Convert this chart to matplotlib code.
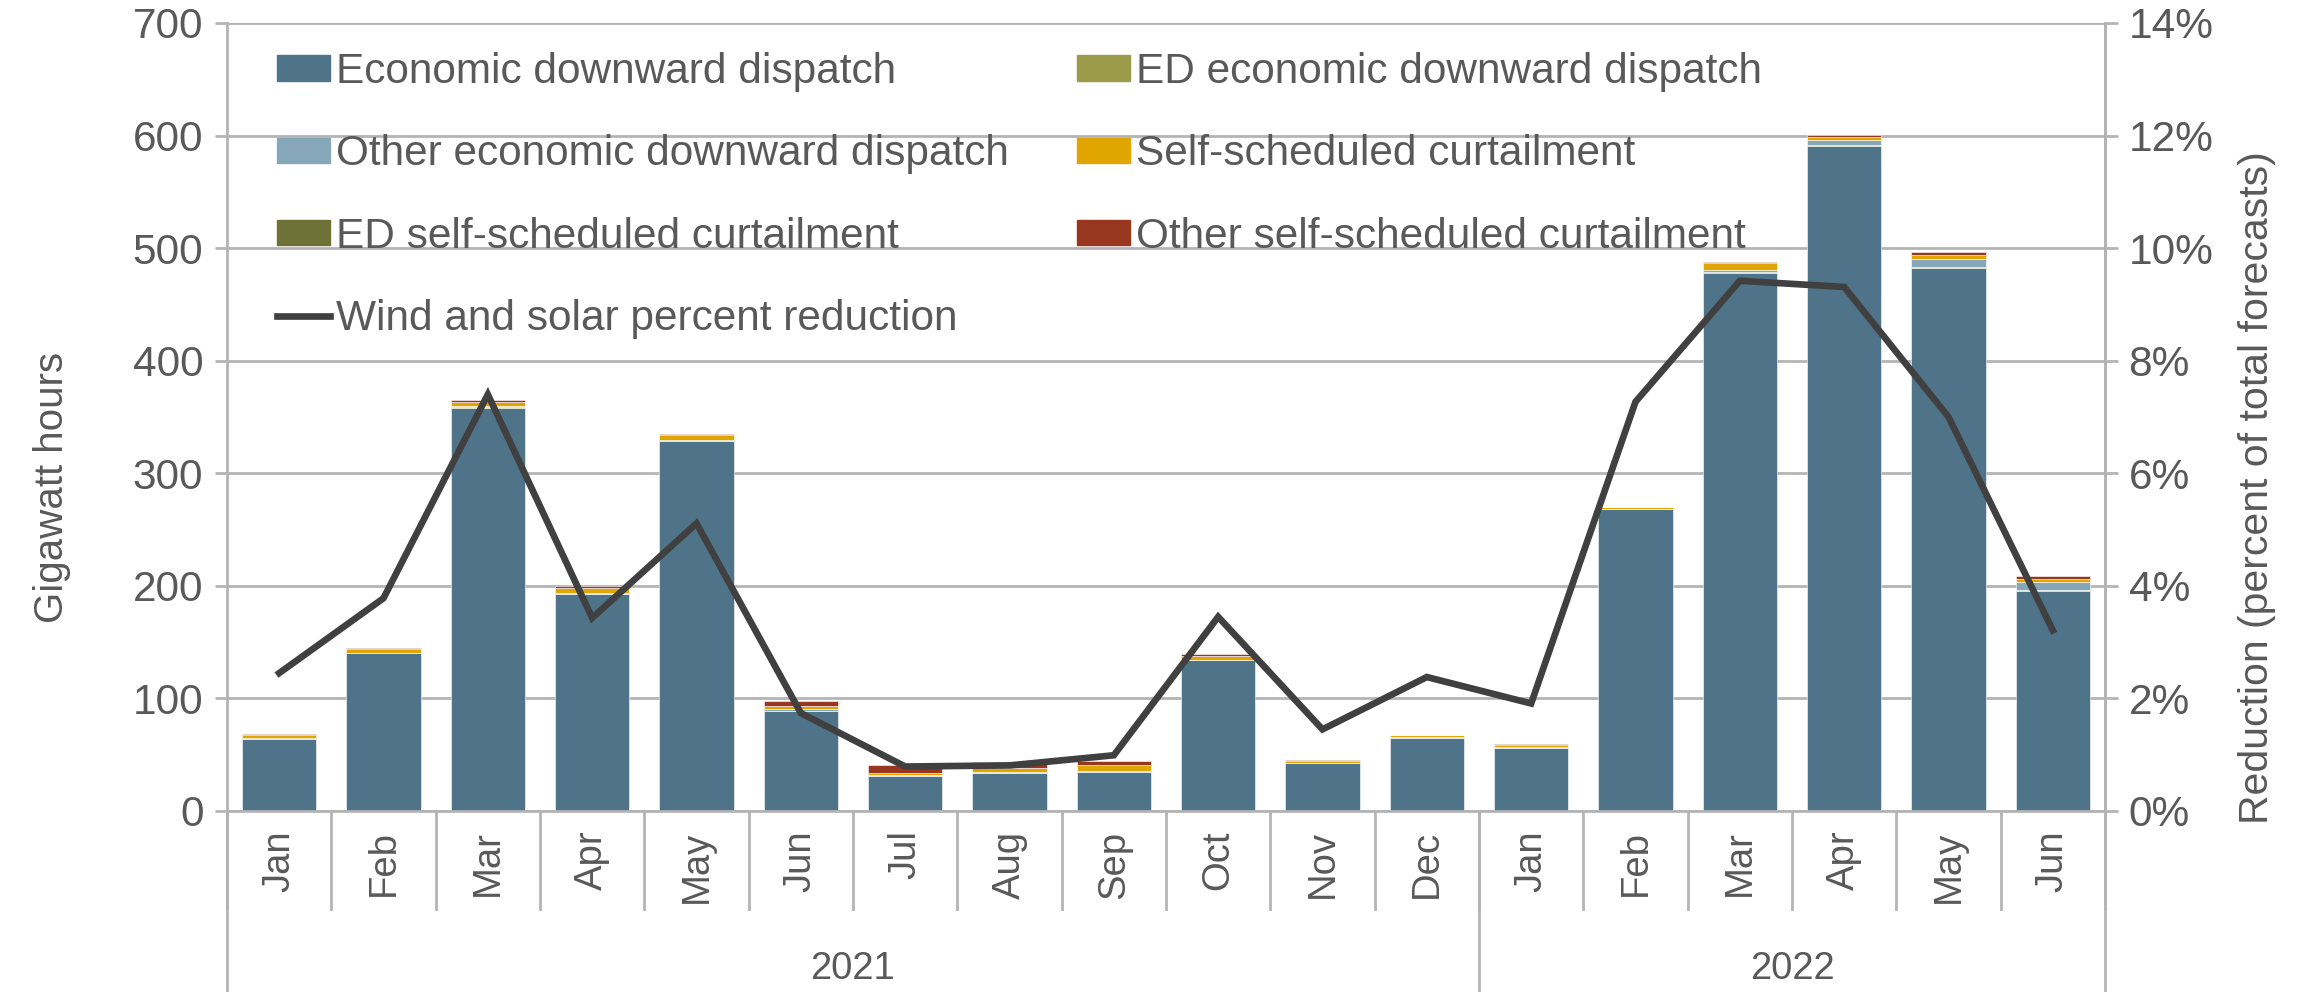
import matplotlib
matplotlib.use("Agg")
import matplotlib.pyplot as plt
import matplotlib.transforms as mtransforms
from matplotlib.ticker import PercentFormatter
from matplotlib.patches import Patch
from matplotlib.lines import Line2D
import numpy as np

plt.rcParams['font.family'] = ['Liberation Sans', 'DejaVu Sans']

months = ['Jan', 'Feb', 'Mar', 'Apr', 'May', 'Jun', 'Jul', 'Aug', 'Sep', 'Oct', 'Nov', 'Dec',
          'Jan', 'Feb', 'Mar', 'Apr', 'May', 'Jun']
years = ['2021', '2022']
year_len = [12, 6]

# gigawatt hours
econ = [64, 140, 358, 193, 329, 89, 31, 34, 35, 134, 42.5, 65, 56, 268, 478, 591, 482.5, 195.5]
ed_econ = [0, 0, 0.5, 0, 0, 0, 0, 0, 0, 0, 0, 0, 0, 0, 0.5, 0.5, 0.5, 0.5]
other_econ = [0.5, 0.5, 1, 1, 1, 2, 1, 0.5, 0.5, 0.5, 0.5, 0.3, 0.5, 0.5, 2.5, 4.5, 7, 7.5]
self_sched = [3, 3.5, 4, 4, 4, 2.5, 2, 3.5, 5, 3.5, 1.5, 2, 2.4, 1.5, 5.5, 2.8, 3.5, 2.7]
ed_self = [0, 0, 0, 0, 0, 0, 0, 0, 0, 0, 0, 0, 0, 0, 0, 0, 0, 0]
other_self = [0.5, 0.5, 1.5, 2, 1, 4.5, 7, 5.5, 3.5, 1.5, 0.5, 0.3, 0.3, 0.3, 1.5, 2, 3, 2.4]
# percent of total forecasts
pct = [2.45, 3.78, 7.4, 3.43, 5.11, 1.74, 0.79, 0.81, 0.99, 3.45, 1.45, 2.38, 1.91, 7.27, 9.42, 9.31, 7.0, 3.21]

series = [
    ('Economic downward dispatch', econ, '#4F7489'),
    ('ED economic downward dispatch', ed_econ, '#9B9B4A'),
    ('Other economic downward dispatch', other_econ, '#86A7B9'),
    ('Self-scheduled curtailment', self_sched, '#E1A500'),
    ('ED self-scheduled curtailment', ed_self, '#6F7236'),
    ('Other self-scheduled curtailment', other_self, '#983620'),
]

txt = '#595959'
grid = '#B4B4B4'

fig = plt.figure(figsize=(22.97, 9.92), dpi=100)
ax = fig.add_axes([227 / 2297, 1 - 811 / 992, (2105 - 227) / 2297, (811 - 23) / 992])
x = np.arange(len(months))

bottom = np.zeros(len(months))
for name, vals, col in series:
    ax.bar(x, vals, 0.71, bottom=bottom, color=col, edgecolor='white', linewidth=0.4, zorder=2)
    bottom += np.array(vals)

ax.set_xlim(-0.5, len(months) - 0.5)
ax.set_ylim(0, 700)
ax.set_yticks(range(0, 701, 100))
ax.yaxis.grid(True, color=grid, linewidth=2)
ax.set_axisbelow(True)
ax.set_xticks(x)
ax.set_xticklabels(months, rotation=90, fontsize=27.5, color=txt)
ax.tick_params(axis='x', length=0, pad=14)
ax.tick_params(axis='y', labelsize=30.5, labelcolor=txt, color=grid, width=2, length=9, pad=8)
ax.spines['top'].set_visible(False)
for s in ['left', 'right', 'bottom']:
    ax.spines[s].set_color(grid)
    ax.spines[s].set_linewidth(2)
ax.set_ylabel('Gigawatt hours', fontsize=29, color=txt)
ax.yaxis.set_label_coords(-0.083, 0.41)

# two-level category axis: month dividers and year dividers
trans = mtransforms.blended_transform_factory(ax.transData, ax.transAxes)
for i in range(len(months) + 1):
    ax.plot([i - 0.5, i - 0.5], [0, -0.124], transform=trans, color=grid, lw=2, clip_on=False)
edges = np.concatenate([[0], np.cumsum(year_len)]) - 0.5
for e in edges:
    ax.plot([e, e], [0, -0.24], transform=trans, color=grid, lw=2, clip_on=False)
for k, yr in enumerate(years):
    ax.text((edges[k] + edges[k + 1]) / 2, -0.2, yr, transform=trans, ha='center', va='center',
            fontsize=27.5, color=txt)

ax2 = ax.twinx()
ax2.plot(x, pct, color='#404040', lw=4.8, solid_joinstyle='miter', zorder=3)
ax2.set_ylim(0, 14)
ax2.set_yticks(range(0, 15, 2))
ax2.yaxis.set_major_formatter(PercentFormatter(decimals=0))
ax2.tick_params(axis='y', labelsize=30.5, labelcolor=txt, color=grid, width=2, length=9, pad=8)
for s in ['top', 'left', 'bottom']:
    ax2.spines[s].set_visible(False)
ax2.spines['right'].set_color(grid)
ax2.spines['right'].set_linewidth(2)
ax2.set_ylabel('Reduction (percent of total forecasts)', fontsize=29.5, color=txt)
ax2.yaxis.set_label_coords(1.071, 0.41)

handles = [Patch(color=c) for _, _, c in series]
labels = [n for n, _, _ in series]
line_h = Line2D([], [], color='#404040', lw=4.8)
order = [0, 2, 4, None, 1, 3, 5]
hs = [line_h if o is None else handles[o] for o in order]
ls = ['Wind and solar percent reduction' if o is None else labels[o] for o in order]
leg = ax2.legend(hs, ls, loc='upper left', bbox_to_anchor=(277 / 2297, 1 - 52 / 992),
                 bbox_transform=fig.transFigure, ncol=2, frameon=False, fontsize=30.5,
                 handlelength=1.25, handleheight=0.55, handletextpad=0.15, labelspacing=1.0,
                 columnspacing=1.6, borderpad=0, borderaxespad=0)
for t in leg.get_texts():
    t.set_color(txt)

fig.savefig('out.png', dpi=100)
